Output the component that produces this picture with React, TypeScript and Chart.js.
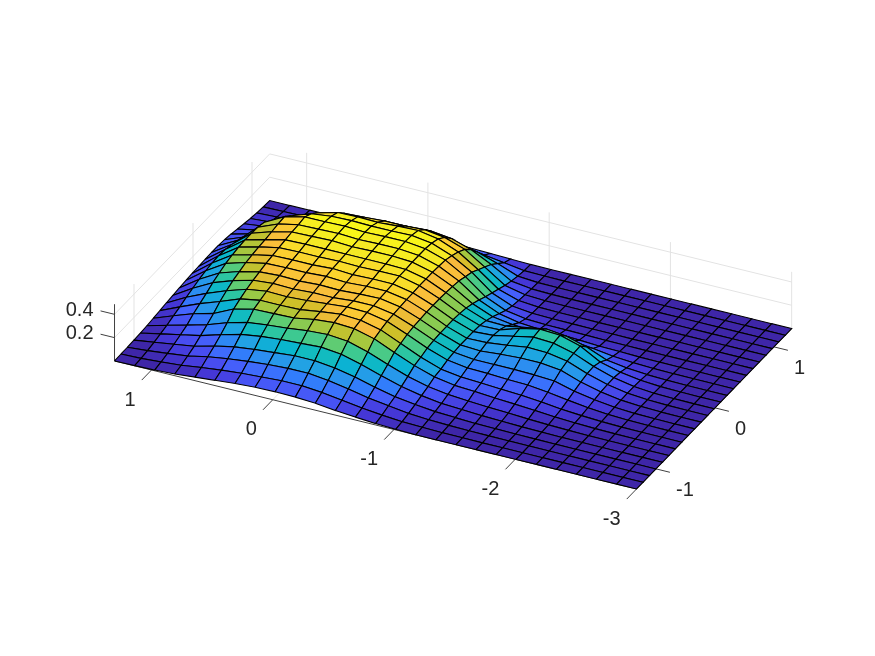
import React, { useEffect, useRef } from "react";
import { Chart, registerables } from "chart.js";
Chart.register(...registerables);

const xGrid = [1.305,1.139,0.974,0.808,0.642,0.477,0.311,0.146,-0.02,-0.186,-0.351,-0.517,-0.682,-0.848,-1.014,-1.179,-1.345,-1.511,-1.676,-1.842,-2.007,-2.173,-2.339,-2.504,-2.67,-2.836,-3];
const yGrid = [-1.33,-1.22,-1.111,-1.001,-0.892,-0.782,-0.672,-0.563,-0.453,-0.344,-0.234,-0.124,-0.015,0.095,0.204,0.314,0.423,0.533,0.643,0.752,0.862,0.971,1.081,1.19,1.3];
const xTicks = [1, 0, -1, -2, -3];
const yTicks = [-1, 0, 1];
const zTicks = [0.2, 0.4];
const zTop = 0.487;
const zMax = 0.44;

// heights[i][j]: i runs along xGrid, j along yGrid
const heights = [
[0,.002,.003,.006,.01,.015,.022,.03,.038,.045,.052,.058,.062,.065,.068,.07,.07,.065,.055,.042,.03,.018,.008,.003,0],
[.002,.007,.016,.03,.045,.062,.085,.105,.13,.15,.17,.185,.195,.2,.195,.18,.16,.13,.1,.075,.05,.03,.015,.005,0],
[.006,.018,.035,.055,.08,.105,.145,.175,.205,.24,.265,.29,.305,.315,.32,.32,.315,.30,.24,.17,.12,.06,.025,.008,.001],
[.015,.032,.055,.08,.115,.15,.19,.235,.27,.30,.32,.34,.35,.36,.365,.375,.385,.39,.34,.27,.19,.11,.05,.014,.002],
[.03,.055,.09,.125,.165,.21,.27,.30,.325,.345,.36,.375,.385,.395,.405,.415,.42,.43,.40,.35,.26,.155,.075,.025,.004],
[.045,.075,.115,.16,.21,.255,.31,.33,.35,.36,.37,.38,.39,.40,.41,.42,.425,.43,.42,.395,.33,.215,.12,.04,.005],
[.06,.09,.135,.18,.235,.275,.315,.33,.345,.355,.365,.38,.39,.40,.41,.425,.43,.435,.425,.40,.34,.245,.145,.055,.008],
[.07,.10,.15,.195,.25,.29,.32,.335,.355,.365,.375,.39,.40,.405,.41,.415,.42,.425,.42,.395,.35,.28,.18,.075,.01],
[.073,.11,.16,.21,.26,.31,.35,.36,.37,.365,.37,.38,.39,.40,.41,.42,.425,.43,.42,.405,.35,.28,.18,.08,.015],
[.07,.11,.16,.21,.27,.32,.365,.38,.385,.38,.38,.39,.395,.405,.41,.42,.425,.43,.425,.41,.36,.29,.19,.09,.02],
[.06,.095,.14,.19,.25,.305,.355,.37,.38,.38,.385,.39,.395,.405,.405,.41,.41,.41,.40,.38,.335,.27,.175,.08,.015],
[.04,.07,.11,.155,.205,.255,.31,.33,.345,.35,.355,.36,.36,.365,.365,.365,.36,.355,.335,.31,.275,.215,.135,.055,.01],
[.025,.045,.075,.11,.15,.19,.235,.255,.275,.285,.29,.295,.295,.295,.29,.285,.275,.255,.235,.20,.165,.13,.08,.03,.005],
[.012,.027,.05,.07,.10,.13,.165,.18,.2,.21,.215,.215,.215,.21,.2,.18,.155,.125,.10,.075,.05,.03,.015,.005,.001],
[.005,.013,.027,.045,.065,.085,.11,.12,.14,.15,.155,.155,.155,.15,.135,.11,.08,.05,.03,.02,.012,.006,.002,.001,0],
[0,.007,.015,.027,.04,.06,.08,.095,.115,.13,.145,.16,.165,.155,.13,.085,.045,.02,.01,.006,.003,.001,0,0,0],
[0,.003,.009,.018,.03,.045,.07,.085,.11,.13,.16,.18,.2,.21,.16,.07,.03,.012,.005,.002,0,0,0,0,0],
[0,.002,.005,.01,.02,.035,.056,.075,.10,.13,.17,.205,.235,.245,.19,.08,.03,.01,.004,.001,0,0,0,0,0],
[0,0,.003,.007,.014,.027,.046,.065,.095,.125,.17,.2,.225,.235,.17,.07,.022,.007,.002,0,0,0,0,0,0],
[0,0,.002,.004,.008,.017,.034,.05,.075,.115,.15,.17,.18,.185,.12,.05,.012,.004,.001,0,0,0,0,0,0],
[0,0,.001,.002,.005,.01,.02,.03,.05,.07,.09,.105,.11,.09,.05,.025,.008,.002,0,0,0,0,0,0,0],
[0,0,0,.001,.002,.005,.011,.017,.027,.038,.048,.054,.055,.045,.025,.012,.003,.001,0,0,0,0,0,0,0],
[0,0,0,0,.001,.002,.005,.008,.012,.016,.02,.022,.022,.018,.01,.005,.002,0,0,0,0,0,0,0,0],
[0,0,0,0,0,0,.002,.003,.005,.006,.008,.008,.007,.006,.004,.002,0,0,0,0,0,0,0,0,0],
[0,0,0,0,0,0,0,.001,.001,.002,.002,.002,.002,.002,.001,.001,0,0,0,0,0,0,0,0,0],
[0,0,0,0,0,0,0,0,0,0,0,0,0,0,0,0,0,0,0,0,0,0,0,0,0],
[0,0,0,0,0,0,0,0,0,0,0,0,0,0,0,0,0,0,0,0,0,0,0,0,0],
];

const parula = [
[.2422,.1504,.6603],[.2706,.2147,.8364],[.2813,.3006,.9414],[.2699,.3892,.9906],
[.1963,.4847,.9892],[.1687,.5703,.9359],[.1248,.6459,.8883],[.0297,.7082,.8163],
[.0964,.75,.712],[.2161,.7843,.5923],[.3909,.8029,.4354],[.6174,.7876,.2612],
[.8203,.7498,.1535],[.9728,.7298,.2394],[.9892,.8136,.1885],[.9597,.9135,.1423],[.9769,.9839,.0805],
];

function colorFor(z: number) {
  const t = Math.max(0, Math.min(1, z / zMax));
  const level = Math.round(t * 63) / 63;
  const p = level * (parula.length - 1);
  const k = Math.min(parula.length - 2, Math.floor(p));
  const f = p - k;
  const c = parula[k].map((a, n) => Math.round(255 * (a + (parula[k + 1][n] - a) * f)));
  return `rgb(${c[0]},${c[1]},${c[2]})`;
}

const xMin = -3, xMax = 1.305, yMin = -1.33, yMax = 1.3;
const view = (x: number, y: number, z: number) => ({
  x: 636.5 - 121.25 * (x + 3) + 59 * (y - yMin),
  y: 489 - 29.75 * (x + 3) - 61 * (y - yMin) - 116.5 * z,
});

function lineSet(pts: { x: number; y: number }[], color: string, width: number) {
  return { data: pts, showLine: true, fill: false, borderColor: color, borderWidth: width, pointRadius: 0, tension: 0 };
}

function buildDatasets() {
  const painted: any[] = [];
  const gridColor = "#e3e3e3";
  for (const z of zTicks) {
    painted.push(lineSet([view(xMax, yMin, z), view(xMax, yMax, z), view(xMin, yMax, z)], gridColor, 1));
  }
  for (const x of xTicks) {
    painted.push(lineSet([view(x, yMin, 0), view(x, yMax, 0), view(x, yMax, zTop)], gridColor, 1));
  }
  for (const y of yTicks) {
    painted.push(lineSet([view(xMin, y, 0), view(xMax, y, 0), view(xMax, y, zTop)], gridColor, 1));
  }
  const axisColor = "#404040";
  painted.push(lineSet([view(xMax, yMin, 0), view(xMin, yMin, 0)], axisColor, 1));
  painted.push(lineSet([view(xMin, yMin, 0), view(xMin, yMax, 0)], axisColor, 1));
  painted.push(lineSet([view(xMax, yMin, 0), view(xMax, yMin, zTop)], axisColor, 1));
  for (const x of xTicks) painted.push(lineSet([view(x, yMin, 0), view(x, yMin - 0.165, 0)], axisColor, 1));
  for (const y of yTicks) painted.push(lineSet([view(xMin, y, 0), view(xMin - 0.115, y, 0)], axisColor, 1));
  for (const z of zTicks) painted.push(lineSet([view(xMax, yMin, z), view(xMax + 0.115, yMin, z)], axisColor, 1));

  for (let j = yGrid.length - 2; j >= 0; j--) {
    for (let i = 0; i < xGrid.length - 1; i++) {
      const a = view(xGrid[i], yGrid[j], heights[i][j]);
      const b = view(xGrid[i + 1], yGrid[j], heights[i + 1][j]);
      const c = view(xGrid[i + 1], yGrid[j + 1], heights[i + 1][j + 1]);
      const d = view(xGrid[i], yGrid[j + 1], heights[i][j + 1]);
      painted.push({
        data: [a, b, c, d, a],
        showLine: true,
        fill: "shape",
        backgroundColor: colorFor(heights[i][j]),
        borderColor: "#000000",
        borderWidth: 1.1,
        pointRadius: 0,
        tension: 0,
      });
    }
  }
  return painted.reverse();
}

const tickLabels = {
  id: "tickLabels",
  afterDatasetsDraw(chart: any) {
    const { ctx, scales } = chart;
    const put = (p: { x: number; y: number }, dx: number, dy: number, text: string, align: CanvasTextAlign) => {
      ctx.textAlign = align;
      ctx.fillText(text, scales.x.getPixelForValue(p.x) + dx, scales.y.getPixelForValue(p.y) + dy);
    };
    ctx.save();
    ctx.font = '20px "Liberation Sans", Arial, sans-serif';
    ctx.fillStyle = "#262626";
    ctx.textBaseline = "middle";
    for (const x of xTicks) put(view(x, yMin, 0), -16, 30, String(x), "right");
    for (const y of yTicks) put(view(xMin, y, 0), 20, 22, String(y), "left");
    for (const z of zTicks) put(view(xMax, yMin, z), -21, -4, z.toFixed(1), "right");
    ctx.restore();
  },
};

export default function App() {
  const ref = useRef<HTMLCanvasElement>(null);
  useEffect(() => {
    const chart = new Chart(ref.current!, {
      type: "scatter",
      data: { datasets: buildDatasets() },
      plugins: [tickLabels],
      options: {
        animation: false,
        responsive: false,
        layout: { padding: 0 },
        plugins: { legend: { display: false }, tooltip: { enabled: false }, title: { display: false } },
        scales: {
          x: { type: "linear", display: false, min: 0, max: 875 },
          y: { type: "linear", display: false, min: 0, max: 656, reverse: true },
        },
      },
    } as any);
    return () => chart.destroy();
  }, []);
  return (
    <div style={{ position: "absolute", left: 0, top: 0, width: 875, height: 656, background: "#fff" }}>
      <canvas ref={ref} width={875} height={656} style={{ display: "block" }} />
    </div>
  );
}
